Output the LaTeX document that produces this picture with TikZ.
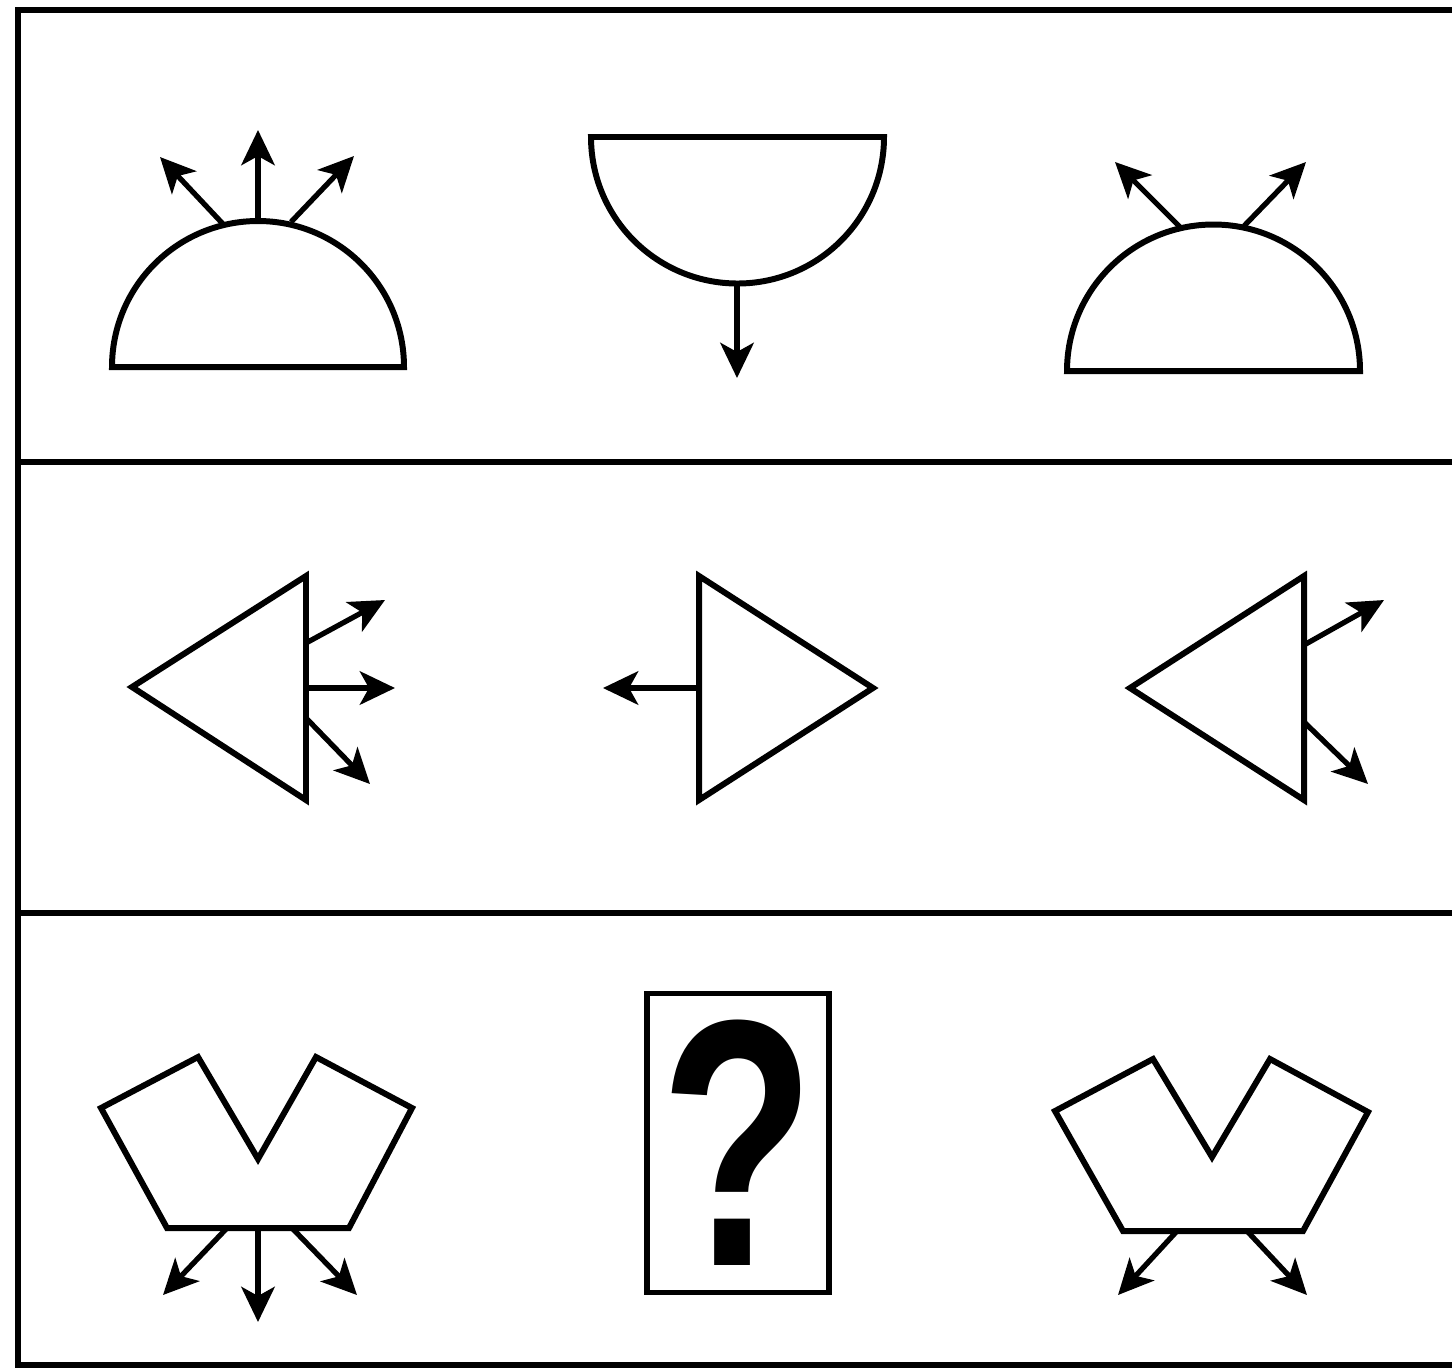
\documentclass[tikz,border=0pt]{standalone}
\usepackage{fontspec}
\usepackage{tikz}
\usetikzlibrary{positioning, arrows.meta}
\newfontfamily\qfont{Liberation Sans}

\begin{document}
\begin{tikzpicture}[x=0.01cm, y=-0.01cm,
    figline/.style={draw, line width=1.7pt, line join=miter},
    ray/.style={-{Stealth[length=10pt, width=9.5pt, inset=2.6pt]}, line width=1.5pt},
    frame/.style={line width=1.5pt}]
    \useasboundingbox (0,0) rectangle (1452,1369);
    \clip (0,0) rectangle (1452,1369);

    % frame and rows
    \draw[frame] (1470,10) -- (18,10) -- (18,1365) -- (1470,1365);
    \draw[frame] (18,462) -- (1470,462);
    \draw[frame] (18,913) -- (1470,913);

    % row 1
    \draw[figline] (112,367) -- (404,367) arc[start angle=0, end angle=-180, radius=146] -- cycle;
    \coordinate (a1) at (258,218);
    \coordinate (a2) at (223,224);
    \coordinate (a3) at (291,222);
    \draw[ray] (a1) -- (258,130);
    \draw[ray] (a2) -- (160,157);
    \draw[ray] (a3) -- (354,156);

    \draw[figline] (591,137) -- (884,137) arc[start angle=0, end angle=180, radius=146.5] -- cycle;
    \coordinate (b1) at (737,286);
    \draw[ray] (b1) -- (737,378);

    \draw[figline] (1067,371) -- (1360,371) arc[start angle=0, end angle=-180, radius=146.5] -- cycle;
    \coordinate (c1) at (1181,228);
    \coordinate (c2) at (1244,226);
    \draw[ray] (c1) -- (1115,162);
    \draw[ray] (c2) -- (1306,162);

    % row 2
    \draw[figline] (132,687) -- (306,576) -- (306,800) -- cycle;
    \coordinate (d1) at (306,643);
    \coordinate (d2) at (306,688);
    \coordinate (d3) at (306,718);
    \draw[ray] (d1) -- (385,600);
    \draw[ray] (d2) -- (395,688);
    \draw[ray] (d3) -- (370,784);

    \draw[figline] (699,576) -- (873,688) -- (699,800) -- cycle;
    \coordinate (e1) at (699,688);
    \draw[ray] (e1) -- (603,688);

    \draw[figline] (1130,688) -- (1304,576) -- (1304,800) -- cycle;
    \coordinate (f1) at (1304,645);
    \coordinate (f2) at (1304,722);
    \draw[ray] (f1) -- (1384,600);
    \draw[ray] (f2) -- (1368,784);

    % row 3
    \draw[figline] (101,1108) -- (198,1057) -- (258,1159) -- (316,1057) -- (412,1108)
        -- (349,1228) -- (167,1228) -- cycle;
    \coordinate (g1) at (227,1228);
    \coordinate (g2) at (258,1228);
    \coordinate (g3) at (292,1228);
    \draw[ray] (g1) -- (163,1295);
    \draw[ray] (g2) -- (258,1322);
    \draw[ray] (g3) -- (357,1295);

    \node[draw, line width=1.5pt, minimum width=1.82cm, minimum height=2.99cm,
        inner sep=0pt] (qbox) at (738,1143) {};
    \node[font=\qfont\bfseries\fontsize{100}{100}\selectfont, xscale=0.72,
        inner sep=0pt] (qmark) at (qbox) {?};

    \draw[figline] (1055,1111) -- (1153,1059) -- (1212,1157) -- (1270,1059) -- (1368,1112)
        -- (1303,1231) -- (1123,1231) -- cycle;
    \coordinate (h1) at (1177,1231);
    \coordinate (h2) at (1247,1231);
    \draw[ray] (h1) -- (1118,1295);
    \draw[ray] (h2) -- (1307,1295);
\end{tikzpicture}
\end{document}
